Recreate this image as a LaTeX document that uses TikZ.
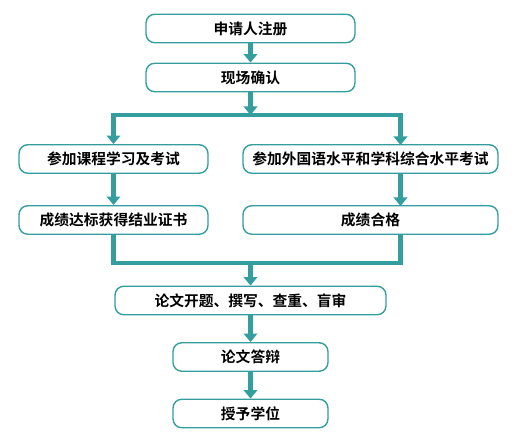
\documentclass[tikz,border=0pt]{standalone}
\usepackage{fontspec}
\newfontfamily\cjk{Noto Sans CJK SC}[BoldFont={* Bold}]
\usetikzlibrary{arrows.meta}
\definecolor{tealline}{RGB}{52,158,158}
\begin{document}
\begin{tikzpicture}[
    x=0.02cm, y=-0.02cm,
    font=\cjk\bfseries\fontsize{8.4}{10}\selectfont,
    stepbox/.style={draw=tealline, line width=0.8pt, rounded corners=5pt, fill=white,
      minimum height=0.57cm, inner sep=0pt},
    flow/.style={draw=tealline, line width=2.8pt},
    arr/.style={flow, -{Triangle[length=0.17cm, width=0.27cm]}}]
  \useasboundingbox (0,0) rectangle (520,448);
  % application
  \node[stepbox, minimum width=4.18cm] (reg) at (250.5,28.5) {申请人注册};
  \node[stepbox, minimum width=4.18cm] (site) at (250.5,77.5) {现场确认};
  % two tracks
  \node[stepbox, minimum width=3.78cm] (course) at (113.5,159) {参加课程学习及考试};
  \node[stepbox, minimum width=5.10cm] (exam) at (370.5,159) {参加外国语水平和学科综合水平考试};
  \node[stepbox, minimum width=3.78cm] (cert) at (113.5,220) {成绩达标获得结业证书};
  \node[stepbox, minimum width=5.10cm] (pass) at (370.5,220) {成绩合格};
  % thesis and degree
  \node[stepbox, minimum width=5.42cm] (thesis) at (250.5,300.5) {论文开题、撰写、查重、盲审};
  \node[stepbox, minimum width=3.10cm] (defense) at (250.5,357) {论文答辩};
  \node[stepbox, minimum width=3.10cm] (degree) at (250.5,413.5) {授予学位};
  % split and join points
  \coordinate (splitL) at (113.5,115);
  \coordinate (splitM) at (250.5,115);
  \coordinate (splitR) at (400.5,115);
  \coordinate (examT) at (400.5,145);
  \coordinate (examB) at (400.5,173);
  \coordinate (passT) at (400.5,206);
  \coordinate (passB) at (400.5,234);
  \coordinate (joinL) at (113.5,263);
  \coordinate (joinM) at (250.5,263);
  \coordinate (joinR) at (400.5,263);
  % connectors
  \draw[arr] (reg) -- (site);
  \draw[arr] (site) -- (splitM);
  \draw[flow, line cap=rect] (splitL) -- (splitR);
  \draw[arr] (splitL) -- (course);
  \draw[arr] (splitR) -- (examT);
  \draw[arr] (course) -- (cert);
  \draw[arr] (examB) -- (passT);
  \draw[flow, line join=miter] (cert) -- (joinL) -- (joinR) -- (passB);
  \draw[arr] (joinM) -- (thesis);
  \draw[arr] (thesis) -- (defense);
  \draw[arr] (defense) -- (degree);
\end{tikzpicture}
\end{document}
